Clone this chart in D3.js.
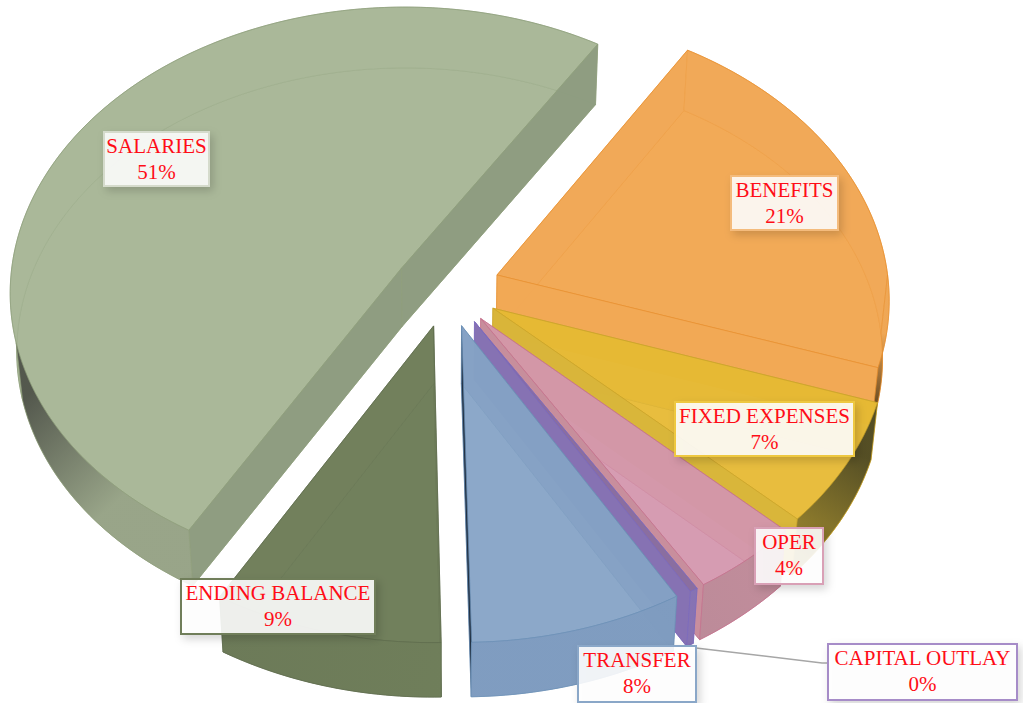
<!DOCTYPE html>
<meta charset="utf-8">
<style>
  html, body { margin: 0; background: #fff; }
  svg { display: block; }
  text { font-family: "Liberation Serif", serif; font-size: 21px; fill: #ff0d17; text-anchor: middle; }
</style>
<body>
<div id="chart"></div>
<script src="https://d3js.org/d3.v7.min.js"></script>
<script>

// Data
var categories = ["SALARIES", "BENEFITS", "FIXED EXPENSES", "OPER", "CAPITAL OUTLAY", "TRANSFER", "ENDING BALANCE"];
var values = [50.8, 21.4, 7, 4.2, 0.3, 8.1, 8.7];

// Face colours, one per slice
var topColors   = ["#a9b798", "#f2a955", "#e7bd3c", "#d59bb1", "#8a6fa3", "#8aa7c8", "#6f7e5a"];
var backColors  = ["#a9b798", "#f0a855", "#e2b428", "#cf919c", "#86699c", "#7c98bd", "#6f7e5a"];
var wallColors  = ["#8e9c80", "#f1a955", "#d9b53a", "#c78e9c", "#8673b4", "#1d2c3d", "#6f7e5a"];
var edgeColors  = ["#8f9f7c", "#e8902f", "#c9a42a", "#c46f8c", "#7b6bc0", "#6a8fb5", "#5e6b4c"];
var outerFrom   = ["#98a488", "#efa653", "#4f4a24", "#c08c9a", "#8673b4", "#7f9cc0", "#6f7e5a"];
var outerTo     = ["#50544a", "#3a2a10", "#a8902f", "#bb8a98", "#8673b4", "#7f9cc0", "#6c7a58"];
var outerHold   = [0.45, 0, 0, 0, 0, 0, 0];
var borderColors = ["#d5dbcc", "#f4bb7c", "#eec83f", "#d9a0b6", "#a68cc8", "#8aa7c8", "#6f7e5a"];

// Label boxes
var labelBoxes = {
  "SALARIES": [104, 132, 105, 54],
  "BENEFITS": [731, 176, 107, 54],
  "FIXED EXPENSES": [675, 402, 179, 54],
  "OPER": [755, 528, 68, 56],
  "CAPITAL OUTLAY": [828, 644, 189, 56],
  "TRANSFER": [578, 646, 118, 56],
  "ENDING BALANCE": [181, 579, 194, 55]
};
var leader = [[696, 648], [822, 663], [828, 663]];

// Camera of the tilted pie
var width = 1023, height = 703;
var cx = 447, cy = 288;
var scaleX = 392, scaleY = 285, persp = 0.08;
var explode = 0.136;
var depth = 58;
var startAngle = 210 * Math.PI / 180;

function project(x, y, z) {
  var w = 1 + persp * y;
  return [
    cx + scaleX * x / w * (1 - 0.015 * z),
    cy - scaleY * y / w * (1 - 0.01 * z) + depth * z
  ];
}

var pie = d3.pie().sort(null).startAngle(startAngle).endAngle(startAngle + 2 * Math.PI);
var arcs = pie(values);
var percent = d3.format(".0%");
var total = d3.sum(values);
var line = d3.line();

var svg = d3.select("#chart").append("svg")
    .attr("width", width)
    .attr("height", height);

var defs = svg.append("defs");
var shadow = defs.append("filter").attr("id", "shadow")
    .attr("x", "-20%").attr("y", "-20%").attr("width", "150%").attr("height", "150%");
shadow.append("feDropShadow")
    .attr("dx", 3).attr("dy", 4).attr("stdDeviation", 4)
    .attr("flood-color", "#000").attr("flood-opacity", 0.18);

// Point on the rim of a slice, moved out along the middle of the slice
function rim(d, a, z) {
  var mid = (d.startAngle + d.endAngle) / 2;
  return project(Math.sin(a) + explode * Math.sin(mid), Math.cos(a) + explode * Math.cos(mid), z);
}
function apex(d, z) {
  var mid = (d.startAngle + d.endAngle) / 2;
  return project(explode * Math.sin(mid), explode * Math.cos(mid), z);
}
function arcPoints(d, a0, a1, z) {
  var n = Math.max(2, Math.ceil((a1 - a0) * 60));
  return d3.range(n + 1).map(function(k) { return rim(d, a0 + (a1 - a0) * k / n, z); });
}
function sector(d, z) {
  return [apex(d, z)].concat(arcPoints(d, d.startAngle, d.endAngle, z));
}
function radialWall(d, a) {
  return [apex(d, 0), rim(d, a, 0), rim(d, a, 1), apex(d, 1)];
}
function outerWall(d, a0, a1) {
  return arcPoints(d, a0, a1, 0).concat(arcPoints(d, a0, a1, 1).reverse());
}

// Split the rim where it turns from the far side to the near side
var rad = Math.PI / 180;
function rimParts(d) {
  var cuts = [90 * rad, 255 * rad, 450 * rad, 615 * rad]
    .filter(function(c) { return c > d.startAngle && c < d.endAngle; });
  var edges = [d.startAngle].concat(cuts, [d.endAngle]);
  return d3.pairs(edges).map(function(p) {
    var mid = (p[0] + p[1]) / 2 % (2 * Math.PI);
    return { a0: p[0], a1: p[1], near: mid > 90 * rad && mid < 255 * rad };
  });
}

function face(g, pts, fill, stroke, opacity, edgeOpacity) {
  g.append("path")
    .attr("d", line(pts) + "Z")
    .attr("fill", fill)
    .attr("fill-opacity", opacity)
    .attr("stroke", stroke)
    .attr("stroke-opacity", edgeOpacity)
    .attr("stroke-width", 1)
    .attr("stroke-linejoin", "round");
}

var slices = svg.append("g").selectAll("g")
    .data(arcs)
    .enter().append("g");

slices.each(function(d, i) {
  var g = d3.select(this);
  var wallNear = function(a, sign) { return Math.cos(a + sign * Math.PI / 2) < 0; };
  var parts = rimParts(d);

  // far side faces first
  face(g, sector(d, 1), topColors[i], edgeColors[i], 0.97, 0.7);
  if (!wallNear(d.startAngle, -1)) face(g, radialWall(d, d.startAngle), backColors[i], edgeColors[i], 0.96, 0.6);
  if (!wallNear(d.endAngle, 1)) face(g, radialWall(d, d.endAngle), backColors[i], edgeColors[i], 0.96, 0.6);
  parts.filter(function(p) { return !p.near; }).forEach(function(p) {
    face(g, outerWall(d, p.a0, p.a1), backColors[i], edgeColors[i], 0.96, 0.6);
  });

  // top of the slice
  face(g, sector(d, 0), topColors[i], edgeColors[i], 0.6, 0.7);

  // near side faces
  if (wallNear(d.startAngle, -1)) face(g, radialWall(d, d.startAngle), wallColors[i], edgeColors[i], 0.96, 0.6);
  if (wallNear(d.endAngle, 1)) face(g, radialWall(d, d.endAngle), wallColors[i], edgeColors[i], 0.96, 0.6);
  parts.filter(function(p) { return p.near; }).forEach(function(p, k) {
    var id = "outer-" + i + "-" + k;
    var from = rim(d, p.a0, 1), to = rim(d, p.a1, 1);
    var grad = defs.append("linearGradient").attr("id", id)
        .attr("gradientUnits", "userSpaceOnUse")
        .attr("x1", from[0]).attr("y1", from[1])
        .attr("x2", to[0]).attr("y2", to[1]);
    grad.append("stop").attr("offset", outerHold[i]).attr("stop-color", outerFrom[i]);
    grad.append("stop").attr("offset", 1).attr("stop-color", outerTo[i]);
    face(g, outerWall(d, p.a0, p.a1), "url(#" + id + ")", edgeColors[i], 0.96, 0.6);
  });
});

// Leader line for the small slice
svg.append("path")
  .attr("d", line(leader))
  .attr("fill", "none")
  .attr("stroke", "#a6a6a6")
  .attr("stroke-width", 1.5);

// Labels
var labels = svg.append("g").selectAll("g")
    .data(categories)
    .enter().append("g");

labels.append("rect")
  .attr("x", function(d) { return labelBoxes[d][0]; })
  .attr("y", function(d) { return labelBoxes[d][1]; })
  .attr("width", function(d) { return labelBoxes[d][2]; })
  .attr("height", function(d) { return labelBoxes[d][3]; })
  .attr("fill", "#fff")
  .attr("fill-opacity", 0.88)
  .attr("stroke", function(d, i) { return borderColors[i]; })
  .attr("stroke-width", 2)
  .attr("filter", "url(#shadow)");

labels.append("text")
  .attr("x", function(d) { return labelBoxes[d][0] + labelBoxes[d][2] / 2; })
  .attr("y", function(d) { return labelBoxes[d][1] + 21; })
  .text(function(d) { return d; });

labels.append("text")
  .attr("x", function(d) { return labelBoxes[d][0] + labelBoxes[d][2] / 2; })
  .attr("y", function(d) { return labelBoxes[d][1] + 47; })
  .text(function(d, i) { return percent(values[i] / total); });

</script>
</body>
